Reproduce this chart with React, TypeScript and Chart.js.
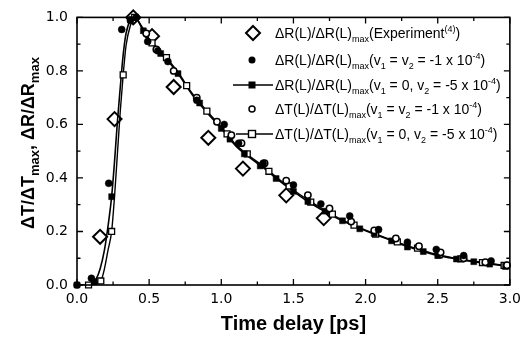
import React, { useEffect, useRef } from 'react';
import { Chart, registerables } from 'chart.js';
Chart.register(...registerables);

// ---- axis ranges / ticks ----
const xMin = 0, xMax = 3.0, xStep = 0.5, xMinor = 0.25;
const yMin = 0, yMax = 1.0, yStep = 0.2, yMinor = 0.1;

// ---- Experiment (open diamonds) ----
const expX = [0.16, 0.26, 0.39, 0.52, 0.67, 0.91, 1.15, 1.45, 1.71];
const expY = [0.18, 0.62, 1.0, 0.93, 0.74, 0.55, 0.435, 0.335, 0.25];

// ---- dR(L)/dR(L)max (v1 = v2 = -1e-4), filled circles ----
const dotRX = [0, 0.1, 0.22, 0.31, 0.37, 0.41, 0.49, 0.56, 0.63, 0.83, 1.02, 1.12, 1.29, 1.5, 1.69, 1.89, 2.09, 2.29, 2.49, 2.68, 2.87];
const dotRY = [0, 0.025, 0.38, 0.955, 0.99, 1.0, 0.91, 0.875, 0.835, 0.69, 0.6, 0.53, 0.455, 0.374, 0.303, 0.258, 0.207, 0.16, 0.133, 0.11, 0.09];

// ---- dR(L)/dR(L)max (v1 = 0, v2 = -5e-4), curve + filled squares ----
const curveRX = [0, 0.05, 0.1, 0.13, 0.16, 0.19, 0.22, 0.24, 0.26, 0.28, 0.3, 0.32, 0.34, 0.37, 0.4, 0.45, 0.5, 0.55, 0.6, 0.65, 0.7, 0.8, 0.9, 1.0, 1.1, 1.2, 1.3, 1.4, 1.5, 1.6, 1.7, 1.8, 1.9, 2.0, 2.1, 2.2, 2.3, 2.4, 2.5, 2.6, 2.7, 2.8, 2.9, 3.0];
const curveRY = [0, 0, 0.005, 0.02, 0.06, 0.13, 0.24, 0.33, 0.46, 0.61, 0.74, 0.86, 0.94, 0.99, 1.0, 0.96, 0.915, 0.885, 0.855, 0.825, 0.79, 0.71, 0.645, 0.585, 0.52, 0.475, 0.435, 0.39, 0.35, 0.312, 0.28, 0.25, 0.225, 0.203, 0.182, 0.162, 0.142, 0.125, 0.11, 0.1, 0.091, 0.083, 0.076, 0.068];
const sqRX = [0, 0.12, 0.24, 0.37, 0.46, 0.58, 0.7, 0.85, 1.0, 1.06, 1.16, 1.27, 1.38, 1.5, 1.6, 1.72, 1.84, 1.96, 2.06, 2.18, 2.29, 2.4, 2.5, 2.63, 2.75, 2.86, 2.97];
const sqRY = [0, 0.012, 0.33, 0.99, 0.95, 0.865, 0.79, 0.68, 0.585, 0.545, 0.49, 0.445, 0.398, 0.35, 0.312, 0.276, 0.24, 0.21, 0.192, 0.165, 0.142, 0.125, 0.11, 0.097, 0.087, 0.078, 0.069];

// ---- dT(L)/dT(L)max (v1 = v2 = -1e-4), open circles ----
const cirTX = [0.48, 0.55, 0.67, 0.83, 0.97, 1.07, 1.14, 1.3, 1.45, 1.6, 1.75, 1.9, 2.06, 2.21, 2.37, 2.52, 2.68, 2.83, 2.98];
const cirTY = [0.94, 0.88, 0.8, 0.7, 0.61, 0.56, 0.53, 0.455, 0.39, 0.336, 0.286, 0.237, 0.204, 0.174, 0.145, 0.122, 0.1, 0.085, 0.074];

// ---- dT(L)/dT(L)max (v1 = 0, v2 = -5e-4), curve + open squares ----
const curveTX = [0, 0.08, 0.12, 0.165, 0.19, 0.215, 0.24, 0.26, 0.28, 0.3, 0.32, 0.34, 0.37, 0.4, 0.45, 0.5, 0.55, 0.6, 0.65, 0.7, 0.8, 0.9, 1.0, 1.1, 1.2, 1.3, 1.4, 1.5, 1.6, 1.7, 1.8, 1.9, 2.0, 2.1, 2.2, 2.3, 2.4, 2.5, 2.6, 2.7, 2.8, 2.9, 3.0];
const curveTY = [0, 0, 0.003, 0.015, 0.06, 0.13, 0.2, 0.33, 0.49, 0.65, 0.785, 0.895, 0.97, 1.0, 0.965, 0.92, 0.89, 0.86, 0.83, 0.795, 0.715, 0.65, 0.59, 0.525, 0.48, 0.44, 0.395, 0.355, 0.318, 0.285, 0.254, 0.228, 0.205, 0.184, 0.164, 0.145, 0.128, 0.113, 0.102, 0.093, 0.085, 0.078, 0.07];
const sqTX = [0.08, 0.165, 0.24, 0.32, 0.4, 0.52, 0.62, 0.76, 0.9, 1.04, 1.18, 1.33, 1.47, 1.62, 1.77, 1.92, 2.07, 2.22, 2.36, 2.51, 2.66, 2.81, 2.96];
const sqTY = [0, 0.015, 0.2, 0.785, 1.0, 0.905, 0.85, 0.745, 0.65, 0.565, 0.49, 0.425, 0.37, 0.31, 0.265, 0.224, 0.19, 0.161, 0.138, 0.113, 0.098, 0.084, 0.073];

// ---- texts ----
const xTitle = 'Time delay [ps]';
type Seg = { t: string; k: 'n' | 'sub' | 'sup' };
const yTitle: Seg[] = [
  { t: 'ΔT/ΔT', k: 'n' }, { t: 'max', k: 'sub' }, { t: ', ΔR/ΔR', k: 'n' }, { t: 'max', k: 'sub' },
];
const legendTexts: Seg[][] = [
  [{ t: 'ΔR(L)/ΔR(L)', k: 'n' }, { t: 'max', k: 'sub' }, { t: '(Experiment', k: 'n' }, { t: '(4)', k: 'sup' }, { t: ')', k: 'n' }],
  [{ t: 'ΔR(L)/ΔR(L)', k: 'n' }, { t: 'max', k: 'sub' }, { t: '(v', k: 'n' }, { t: '1', k: 'sub' }, { t: ' = v', k: 'n' }, { t: '2', k: 'sub' }, { t: ' = -1 x 10', k: 'n' }, { t: '-4', k: 'sup' }, { t: ')', k: 'n' }],
  [{ t: 'ΔR(L)/ΔR(L)', k: 'n' }, { t: 'max', k: 'sub' }, { t: '(v', k: 'n' }, { t: '1', k: 'sub' }, { t: ' = 0, v', k: 'n' }, { t: '2', k: 'sub' }, { t: ' = -5 x 10', k: 'n' }, { t: '-4', k: 'sup' }, { t: ')', k: 'n' }],
  [{ t: 'ΔT(L)/ΔT(L)', k: 'n' }, { t: 'max', k: 'sub' }, { t: '(v', k: 'n' }, { t: '1', k: 'sub' }, { t: ' = v', k: 'n' }, { t: '2', k: 'sub' }, { t: ' = -1 x 10', k: 'n' }, { t: '-4', k: 'sup' }, { t: ')', k: 'n' }],
  [{ t: 'ΔT(L)/ΔT(L)', k: 'n' }, { t: 'max', k: 'sub' }, { t: '(v', k: 'n' }, { t: '1', k: 'sub' }, { t: ' = 0, v', k: 'n' }, { t: '2', k: 'sub' }, { t: ' = -5 x 10', k: 'n' }, { t: '-4', k: 'sup' }, { t: ')', k: 'n' }],
];

const pts = (xs: number[], ys: number[]) => xs.map((x, i) => ({ x, y: ys[i] }));

function drawRich(ctx: CanvasRenderingContext2D, segs: Seg[], x: number, y: number, opt: { size: number; sub: number; weight: string; family: string; sx: number; center?: boolean }) {
  const fontFor = (k: string) => `${opt.weight} ${k === 'n' ? opt.size : opt.sub}px ${opt.family}`;
  let total = 0;
  const widths = segs.map(s => { ctx.font = fontFor(s.k); const w = ctx.measureText(s.t).width; total += w; return w; });
  ctx.save();
  ctx.translate(x, y);
  ctx.scale(opt.sx, 1);
  let cx = opt.center ? -total / 2 : 0;
  ctx.textBaseline = 'alphabetic';
  ctx.textAlign = 'left';
  ctx.fillStyle = '#000';
  segs.forEach((s, i) => {
    ctx.font = fontFor(s.k);
    const dy = s.k === 'sub' ? opt.size * 0.3 : s.k === 'sup' ? -opt.size * 0.42 : 0;
    ctx.fillText(s.t, cx, dy);
    cx += widths[i];
  });
  ctx.restore();
}

const framePlugin = {
  id: 'frame',
  afterDatasetsDraw(chart: any) {
    const { ctx, chartArea: a, scales } = chart;
    const xs = scales.x, ys = scales.y;
    ctx.save();
    ctx.strokeStyle = '#000';
    ctx.lineWidth = 1.6;
    ctx.strokeRect(a.left, a.top, a.right - a.left, a.bottom - a.top);
    ctx.lineWidth = 1.3;
    ctx.beginPath();
    const nx = Math.round((xMax - xMin) / xMinor);
    for (let i = 0; i <= nx; i++) {
      const v = xMin + i * xMinor;
      const p = xs.getPixelForValue(v);
      const len = Math.abs(v / xStep - Math.round(v / xStep)) < 1e-6 ? 6 : 3.5;
      ctx.moveTo(p, a.bottom); ctx.lineTo(p, a.bottom - len);
      ctx.moveTo(p, a.top); ctx.lineTo(p, a.top + len);
    }
    const ny = Math.round((yMax - yMin) / yMinor);
    for (let i = 0; i <= ny; i++) {
      const v = yMin + i * yMinor;
      const p = ys.getPixelForValue(v);
      const len = Math.abs(v / yStep - Math.round(v / yStep)) < 1e-6 ? 6 : 3.5;
      ctx.moveTo(a.left, p); ctx.lineTo(a.left + len, p);
      ctx.moveTo(a.right, p); ctx.lineTo(a.right - len, p);
    }
    ctx.stroke();
    ctx.restore();
  },
  afterDraw(chart: any) {
    const { ctx, chartArea: a } = chart;
    // x title
    drawRich(ctx, [{ t: xTitle, k: 'n' }], (a.left + a.right) / 2, 330, { size: 20, sub: 14, weight: 'bold', family: 'Liberation Sans, Arial, sans-serif', sx: 1.0, center: true });
    // y title (rotated)
    ctx.save();
    ctx.translate(34, 143);
    ctx.rotate(-Math.PI / 2);
    drawRich(ctx, yTitle, 0, 0, { size: 18, sub: 13, weight: 'bold', family: 'Liberation Sans, Arial, sans-serif', sx: 1.0, center: true });
    ctx.restore();

    // legend
    const symX = 252;
    const textX = 275;
    const rows = [33, 60, 85, 109, 134];
    ctx.save();
    ctx.strokeStyle = '#000';
    ctx.fillStyle = '#000';
    // 1 diamond
    let cy = rows[0];
    ctx.lineWidth = 2;
    ctx.beginPath();
    ctx.moveTo(symX + 1, cy - 7); ctx.lineTo(symX + 8, cy); ctx.lineTo(symX + 1, cy + 7); ctx.lineTo(symX - 6, cy); ctx.closePath();
    ctx.stroke();
    // 2 filled circle
    cy = rows[1];
    ctx.beginPath(); ctx.arc(symX, cy, 3.5, 0, Math.PI * 2); ctx.fill();
    // 3 line + filled square
    cy = rows[2];
    ctx.lineWidth = 1.6;
    ctx.beginPath(); ctx.moveTo(233, cy); ctx.lineTo(273, cy); ctx.stroke();
    ctx.fillRect(symX - 3.5, cy - 3.5, 7, 7);
    // 4 open circle
    cy = rows[3];
    ctx.lineWidth = 1.5;
    ctx.beginPath(); ctx.arc(symX, cy, 3, 0, Math.PI * 2); ctx.fillStyle = '#fff'; ctx.fill(); ctx.stroke();
    // 5 line + open square
    cy = rows[4];
    ctx.lineWidth = 1.4;
    ctx.beginPath(); ctx.moveTo(236, cy); ctx.lineTo(273, cy); ctx.stroke();
    ctx.fillStyle = '#fff';
    ctx.fillRect(symX - 3.5, cy - 3.5, 7, 7);
    ctx.strokeRect(symX - 3.5, cy - 3.5, 7, 7);
    ctx.restore();
    legendTexts.forEach((segs, i) => {
      drawRich(ctx, segs, textX, rows[i] + 5, { size: 14, sub: 9, weight: 'normal', family: 'Liberation Sans, Arial, sans-serif', sx: 1.0 });
    });
  },
};

export default function App() {
  const ref = useRef<HTMLCanvasElement>(null);
  useEffect(() => {
    document.body.style.margin = '0';
    const canvas = ref.current!;
    const black = '#000';
    const chart = new Chart(canvas, {
      type: 'scatter',
      data: {
        datasets: [
          { label: 'dot R', data: pts(dotRX, dotRY), showLine: false, pointStyle: 'circle', pointRadius: 3.5, pointBackgroundColor: black, pointBorderColor: black, pointBorderWidth: 0.5, clip: false } as any,
          { label: 'circle T', data: pts(cirTX, cirTY), showLine: false, pointStyle: 'circle', pointRadius: 3.2, pointBackgroundColor: '#fff', pointBorderColor: black, pointBorderWidth: 1.5, clip: false } as any,
          { label: 'sq R', data: pts(sqRX, sqRY), showLine: false, pointStyle: 'rect', pointRadius: 4.2, pointBackgroundColor: black, pointBorderColor: black, pointBorderWidth: 0.5, clip: false } as any,
          { label: 'sq T', data: pts(sqTX, sqTY), showLine: false, pointStyle: 'rect', pointRadius: 4.2, pointBackgroundColor: '#fff', pointBorderColor: black, pointBorderWidth: 1.3, clip: false } as any,
          { label: 'exp', data: pts(expX, expY), showLine: false, pointStyle: 'rectRot', pointRadius: 7, pointBackgroundColor: 'rgba(0,0,0,0)', pointBorderColor: black, pointBorderWidth: 2, clip: false } as any,
          { label: 'curve R', data: pts(curveRX, curveRY), showLine: true, pointRadius: 0, borderColor: black, borderWidth: 1.6, cubicInterpolationMode: 'monotone' } as any,
          { label: 'curve T', data: pts(curveTX, curveTY), showLine: true, pointRadius: 0, borderColor: black, borderWidth: 1.4, cubicInterpolationMode: 'monotone' } as any,
        ],
      },
      options: {
        animation: false,
        responsive: false,
        devicePixelRatio: 1,
        layout: { padding: { top: 15, right: 16, left: 0, bottom: 0 } },
        plugins: { legend: { display: false }, tooltip: { enabled: false }, title: { display: false } },
        scales: {
          x: {
            type: 'linear', min: xMin, max: xMax,
            grid: { display: false, drawTicks: false },
            border: { display: false },
            ticks: { stepSize: xStep, padding: 6, color: '#000', font: { family: 'DejaVu Sans', size: 14 }, callback: (v: any) => Number(v).toFixed(1), maxRotation: 0, autoSkip: false },
            afterFit: (s: any) => { s.height = 53; },
          },
          y: {
            type: 'linear', min: yMin, max: yMax,
            grid: { display: false, drawTicks: false },
            border: { display: false },
            ticks: { stepSize: yStep, padding: 9, color: '#000', font: { family: 'DejaVu Sans', size: 14 }, callback: (v: any) => Number(v).toFixed(1) },
            afterFit: (s: any) => { s.width = 77; },
          },
        },
      } as any,
      plugins: [framePlugin],
    });
    return () => chart.destroy();
  }, []);
  return (
    <div style={{ width: 527, height: 338, background: '#fff' }}>
      <canvas ref={ref} width={527} height={338} style={{ display: 'block' }} />
    </div>
  );
}
